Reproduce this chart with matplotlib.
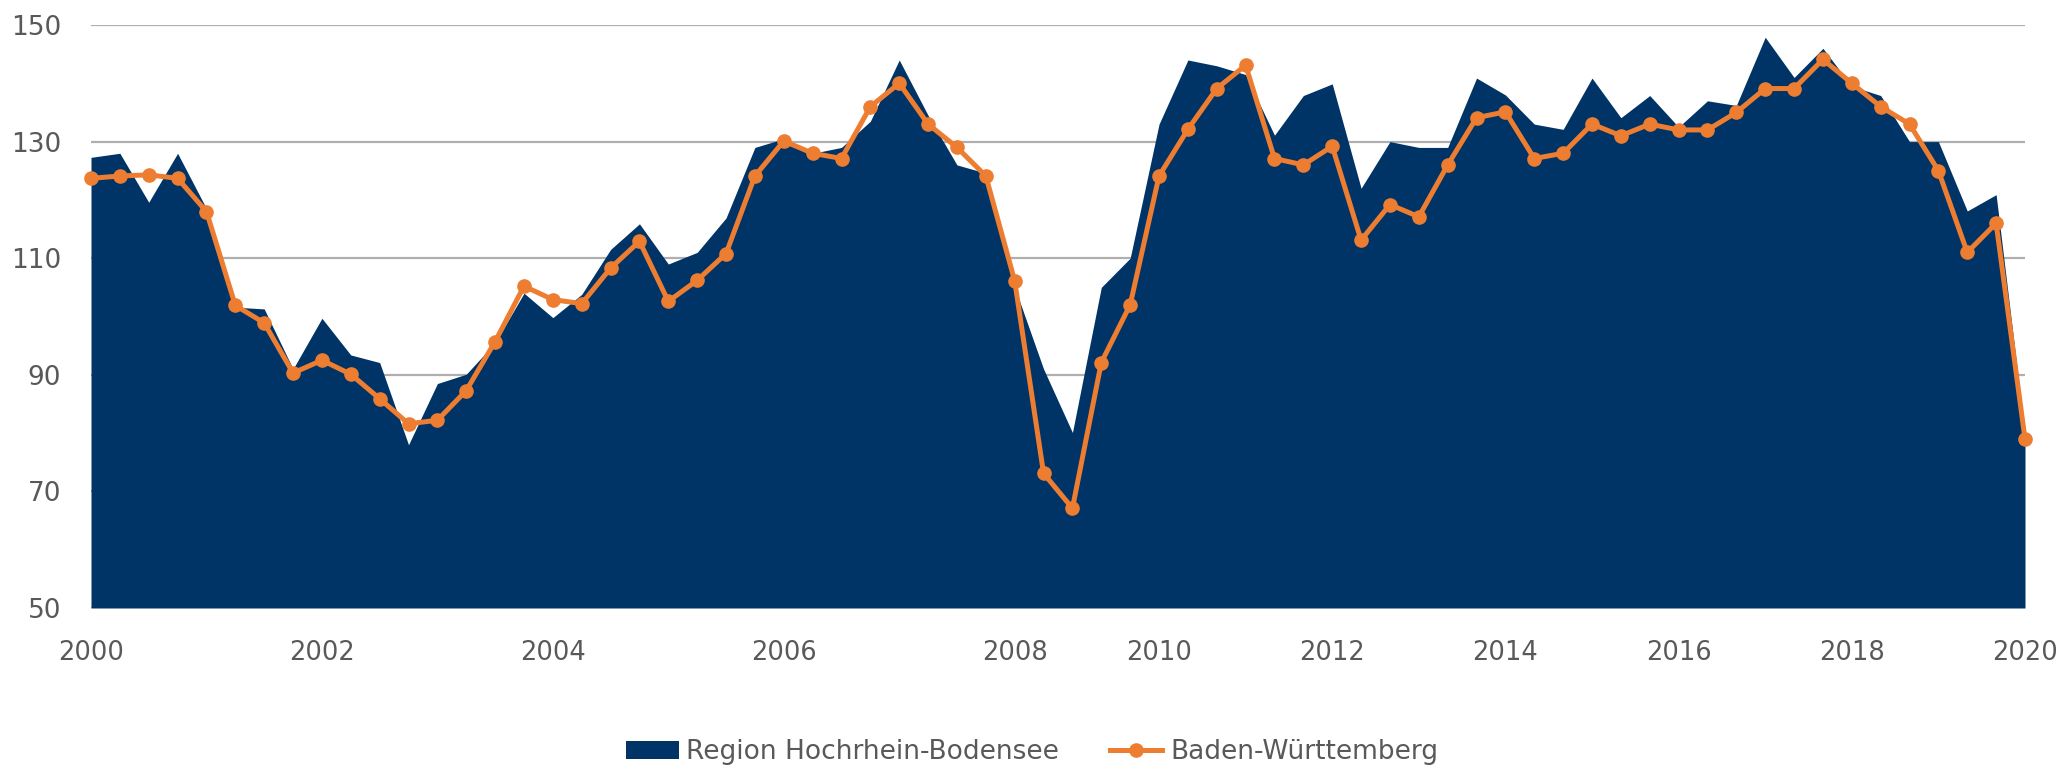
import matplotlib.pyplot as plt
from matplotlib.patches import Patch
from matplotlib.lines import Line2D
import numpy as np

# Survey index, quarterly until 2008, then roughly three surveys per year
region = [127.3, 128.0, 119.6, 128.0, 118.5, 101.6, 101.3, 91.0, 99.7, 93.4,
          92.1, 78.0, 88.5, 90.1, 95.5, 104.0, 99.8, 103.8, 111.5, 115.9,
          109.0, 111.0, 116.9, 129.0, 130.5, 128.0, 129.0, 133.5, 144.0, 134.5,
          126.0, 124.6, 105.0, 91.0, 80.1, 105.0, 110.0, 133.0, 144.0, 143.0,
          141.5, 131.1, 137.9, 139.9, 122.0, 130.0, 129.0, 129.0, 140.9, 138.0,
          133.0, 132.1, 140.9, 134.1, 137.9, 132.5, 137.0, 136.2, 147.9, 141.0,
          146.0, 139.5, 137.9, 130.0, 130.0, 118.1, 120.9, 80.0]

bw = [123.7, 124.1, 124.3, 123.7, 118.0, 101.9, 98.9, 90.3, 92.5, 90.1,
      85.9, 81.6, 82.2, 87.3, 95.7, 105.2, 102.9, 102.2, 108.3, 112.9,
      102.6, 106.2, 110.8, 124.1, 130.1, 128.0, 127.1, 136.0, 140.0, 133.0,
      129.0, 124.1, 106.1, 73.1, 67.1, 92.1, 102.0, 124.1, 132.1, 139.1,
      143.1, 127.1, 126.0, 129.2, 113.1, 119.2, 117.1, 126.0, 134.1, 135.1,
      127.1, 128.0, 133.0, 131.0, 133.0, 132.0, 132.0, 135.0, 139.1, 139.1,
      144.1, 140.0, 136.0, 133.0, 125.0, 111.0, 116.0, 79.0]

year_pos = [0, 8, 16, 24, 32, 37, 43, 49, 55, 61, 67]
year_labels = ['2000', '2002', '2004', '2006', '2008', '2010',
               '2012', '2014', '2016', '2018', '2020']
y_ticks = [50, 70, 90, 110, 130, 150]

navy = '#003366'
orange = '#ED7D31'
grey_text = '#595959'

fig = plt.figure(figsize=(20.64, 7.67), dpi=100)
ax = fig.add_axes([91 / 2064, 1 - 608 / 767, (2025 - 91) / 2064, (608 - 25) / 767])

x = np.arange(len(region))
ax.fill_between(x, 50, region, color=navy, linewidth=0, zorder=2)
ax.plot(x, bw, color=orange, linewidth=3.6, marker='o', markersize=9.5,
        clip_on=False, zorder=3)

ax.set_xlim(0, len(region) - 1)
ax.set_ylim(50, 150)
ax.set_yticks(y_ticks)
ax.set_xticks(year_pos)
ax.set_xticklabels(year_labels, fontsize=18.5, color=grey_text)
ax.set_yticklabels([str(v) for v in y_ticks], fontsize=19, color=grey_text)
ax.tick_params(axis='x', length=0, pad=23)
ax.tick_params(axis='y', length=0, pad=21.5)
ax.grid(axis='y', color='#AFAFAF', linewidth=1.6, zorder=1)
ax.set_axisbelow(True)
for s in ax.spines.values():
    s.set_visible(False)

handles = [Patch(facecolor=navy, edgecolor='none'),
           Line2D([], [], color=orange, linewidth=3.6, marker='o', markersize=9.5)]
fig.legend(handles, ['Region Hochrhein-Bodensee', 'Baden-Württemberg'],
           loc='center', bbox_to_anchor=(0.5, 1 - 752 / 767), ncol=2,
           frameon=False, prop={'size': 19},
           labelcolor=grey_text, handlelength=2.0, handleheight=0.7,
           handletextpad=0.3, columnspacing=1.9)

fig.savefig('out.png', dpi=100)
